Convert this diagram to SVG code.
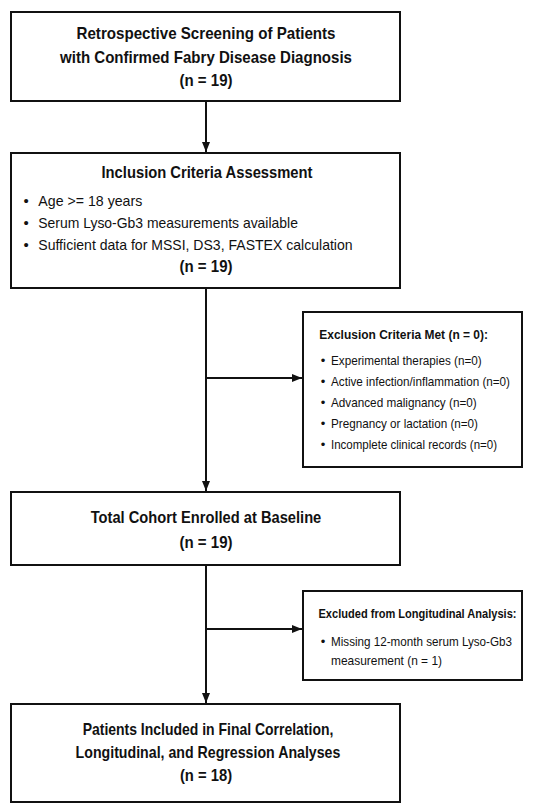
<svg xmlns="http://www.w3.org/2000/svg" width="550" height="812" viewBox="0 0 550 812">
<defs>
<style>
.box{fill:#fff;stroke:#111;stroke-width:2}
.t{font-family:"Liberation Sans",Arial,sans-serif;font-weight:bold;font-size:16.5px;fill:#111;text-anchor:middle}
.b{font-family:"Liberation Sans",Arial,sans-serif;font-size:15px;fill:#111}
.st{font-family:"Liberation Sans",Arial,sans-serif;font-weight:bold;font-size:13.5px;fill:#111}
.sb{font-family:"Liberation Sans",Arial,sans-serif;font-size:13px;fill:#111}
.ln{fill:none;stroke:#111;stroke-width:2}
</style>
<marker id="ah" viewBox="0 0 10 10" refX="10" refY="5" markerWidth="10" markerHeight="10" markerUnits="userSpaceOnUse" orient="auto">
<path d="M0,1 L10,5 L0,9 z" fill="#111"/>
</marker>
</defs>
<rect width="550" height="812" fill="#fff"/>
<g id="connectors">
<line class="ln" x1="206" y1="101" x2="206" y2="152" marker-end="url(#ah)"/>
<line class="ln" x1="206" y1="288" x2="206" y2="491" marker-end="url(#ah)"/>
<line class="ln" x1="206" y1="378" x2="302" y2="378" marker-end="url(#ah)"/>
<line class="ln" x1="206" y1="565" x2="206" y2="703" marker-end="url(#ah)"/>
<line class="ln" x1="206" y1="629" x2="302" y2="629" marker-end="url(#ah)"/>
</g>
<g id="screening">
<rect class="box" x="11" y="12" width="389" height="89"/>
<text class="t" x="206" y="39" textLength="259" lengthAdjust="spacingAndGlyphs">Retrospective Screening of Patients</text>
<text class="t" x="206" y="63" textLength="292" lengthAdjust="spacingAndGlyphs">with Confirmed Fabry Disease Diagnosis</text>
<text class="t" x="206" y="86" textLength="53" lengthAdjust="spacingAndGlyphs">(n = 19)</text>
</g>
<g id="inclusion">
<rect class="box" x="11" y="153" width="389" height="135"/>
<text class="t" x="207" y="178" textLength="211" lengthAdjust="spacingAndGlyphs">Inclusion Criteria Assessment</text>
<text class="b" x="23.5" y="206">•</text>
<text class="b" x="38.3" y="206" textLength="104" lengthAdjust="spacingAndGlyphs">Age &gt;= 18 years</text>
<text class="b" x="23.5" y="228">•</text>
<text class="b" x="38.3" y="228" textLength="259.6" lengthAdjust="spacingAndGlyphs">Serum Lyso-Gb3 measurements available</text>
<text class="b" x="23.5" y="250">•</text>
<text class="b" x="38.3" y="250" textLength="314.3" lengthAdjust="spacingAndGlyphs">Sufficient data for MSSI, DS3, FASTEX calculation</text>
<text class="t" x="206" y="272" textLength="53" lengthAdjust="spacingAndGlyphs">(n = 19)</text>
</g>
<g id="exclusion">
<rect class="box" x="303" y="312" width="219" height="155"/>
<text class="st" x="319.3" y="339" textLength="168.7" lengthAdjust="spacingAndGlyphs">Exclusion Criteria Met (n = 0):</text>
<text class="sb" x="320.7" y="365">•</text>
<text class="sb" x="331" y="365" textLength="150.7" lengthAdjust="spacingAndGlyphs">Experimental therapies (n=0)</text>
<text class="sb" x="320.7" y="386">•</text>
<text class="sb" x="331" y="386" textLength="179" lengthAdjust="spacingAndGlyphs">Active infection/inflammation (n=0)</text>
<text class="sb" x="320.7" y="407">•</text>
<text class="sb" x="331" y="407" textLength="145.7" lengthAdjust="spacingAndGlyphs">Advanced malignancy (n=0)</text>
<text class="sb" x="320.7" y="428">•</text>
<text class="sb" x="331" y="428" textLength="147" lengthAdjust="spacingAndGlyphs">Pregnancy or lactation (n=0)</text>
<text class="sb" x="320.7" y="449">•</text>
<text class="sb" x="331" y="449" textLength="166" lengthAdjust="spacingAndGlyphs">Incomplete clinical records (n=0)</text>
</g>
<g id="baseline">
<rect class="box" x="11" y="492" width="389" height="73"/>
<text class="t" x="206" y="523" textLength="230.6" lengthAdjust="spacingAndGlyphs">Total Cohort Enrolled at Baseline</text>
<text class="t" x="206" y="548" textLength="53" lengthAdjust="spacingAndGlyphs">(n = 19)</text>
</g>
<g id="excluded-longitudinal">
<rect class="box" x="303" y="591" width="219" height="89"/>
<text class="st" transform="translate(318.5,618) scale(0.82,1)" x="0" y="0">Excluded from Longitudinal Analysis:</text>
<text class="sb" x="320.7" y="645.5">•</text>
<text class="sb" x="331" y="645.5" textLength="181" lengthAdjust="spacingAndGlyphs">Missing 12-month serum Lyso-Gb3</text>
<text class="sb" x="331" y="665" textLength="111" lengthAdjust="spacingAndGlyphs">measurement (n = 1)</text>
</g>
<g id="final">
<rect class="box" x="11" y="704" width="389" height="98"/>
<text class="t" x="208" y="735" textLength="250.7" lengthAdjust="spacingAndGlyphs">Patients Included in Final Correlation,</text>
<text class="t" x="208" y="758" textLength="264.8" lengthAdjust="spacingAndGlyphs">Longitudinal, and Regression Analyses</text>
<text class="t" x="206" y="781" textLength="52.2" lengthAdjust="spacingAndGlyphs">(n = 18)</text>
</g>
</svg>
